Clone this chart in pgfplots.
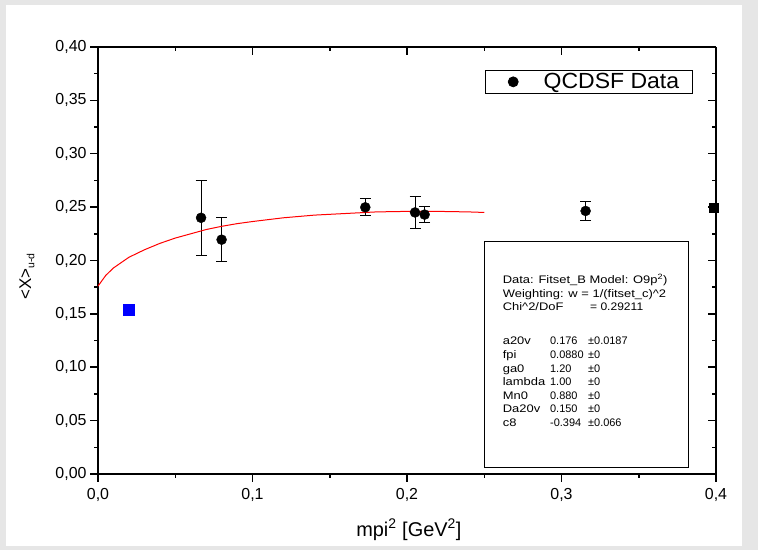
\documentclass[border=0pt]{standalone}
\usepackage{fontspec}
\setmainfont{Liberation Sans}
\usepackage{pgfplots}
\pgfplotsset{compat=1.18}
\definecolor{framegrey}{HTML}{E6E6E6}
\definecolor{qblue}{HTML}{0000FF}
\definecolor{fitred}{HTML}{FF0000}
\pgfkeys{/pgf/number format/assume math mode=true}

\pgfplotsset{
  common/.style={
    scale only axis, width=618bp, height=427bp,
    at={(98bp,76bp)}, anchor=south west,
    xmin=0, xmax=0.4, ymin=0, ymax=0.4,
    xtick={0,0.1,0.2,0.3,0.4},
    ytick={0,0.05,0.1,0.15,0.2,0.25,0.3,0.35,0.4},
    minor x tick num=1, minor y tick num=1,
    major tick length=8bp, minor tick length=4bp,
    axis line style={-, line width=1.5bp},
    every tick/.style={black, line width=1.5bp},
  }
}
\newcommand{\wide}[1]{\scalebox{1.18}[1]{#1}}
\newcommand{\fitrow}[3]{\makebox[47.3bp][l]{\wide{#1}}\makebox[38bp][l]{#2}±#3}

\begin{document}
\begin{tikzpicture}[x=1bp,y=1bp]
\fill[framegrey] (0,0) rectangle (758,550);
\fill[white] (6,4) rectangle (742,545);

% top and right frame, ticks pointing in
\begin{axis}[common, axis x line*=top, axis y line*=right, tick align=inside,
  xticklabels={}, yticklabels={}]
\end{axis}

\begin{axis}[common, axis x line*=bottom, axis y line*=left, tick align=outside,
  clip=false,
  tick label style={font=\fontsize{16}{16}\selectfont, black},
  xticklabel style={yshift=-3bp, /pgf/number format/.cd, fixed, fixed zerofill, precision=1, use comma},
  yticklabel style={/pgf/number format/.cd, fixed, fixed zerofill, precision=2, use comma},
  xlabel={mpi\textsuperscript{2} [GeV\textsuperscript{2}]},
  ylabel={<X>{\fontsize{10.5}{10.5}\selectfont\raisebox{-0.3em}{u-d}}},
  xlabel style={font=\fontsize{20}{20}\selectfont, at={(axis description cs:0.503,-0.131)}, anchor=center},
  ylabel style={font=\fontsize{17}{17}\selectfont, at={(axis description cs:-0.115,0.4625)}, anchor=center},
  legend style={at={(0.9628,0.946)}, anchor=north east, draw=black, line width=0.8bp,
    font=\fontsize{22}{22}\selectfont, inner xsep=0bp, inner ysep=1bp,
    cells={anchor=west}},
  legend image code/.code={%
    \path (0bp,0bp) (55bp,0bp);
    \draw[#1] plot coordinates {(27bp,0bp)};},
]
\addplot[only marks, mark=*, mark size=5bp, black,
  error bars/.cd, y dir=both, y explicit,
  error bar style={line width=1bp},
  error mark options={rotate=90, mark size=5.5bp, line width=1bp}]
coordinates {
 (0.0667,0.2400) +- (0,0.0350)
 (0.0800,0.2195) +- (0,0.0207)
 (0.1730,0.2498) +- (0,0.0080)
 (0.2052,0.2450) +- (0,0.0150)
 (0.2114,0.2430) +- (0,0.0075)
 (0.3156,0.2464) +- (0,0.0085)
};
\addlegendentry{\makebox[147bp][l]{\scalebox{1.05}[1]{QCDSF Data}}}

\addplot[fitred, line width=1bp, forget plot] coordinates {
 (0,0.176) (0.005,0.186) (0.01,0.193) (0.02,0.203) (0.03,0.210)
 (0.04,0.216) (0.05,0.221) (0.06,0.225) (0.07,0.229) (0.08,0.232)
 (0.09,0.2345) (0.10,0.2365) (0.12,0.240) (0.14,0.2425) (0.16,0.244)
 (0.18,0.2455) (0.20,0.246) (0.22,0.246) (0.24,0.2455) (0.25,0.245)
};

\addplot[only marks, mark=square*, mark size=4.5bp, black, forget plot]
coordinates {(0.3987,0.2495)};
\addplot[only marks, mark=square*, mark size=5.5bp, qblue, forget plot]
coordinates {(0.0200,0.1540)};

% fit result box
\draw[line width=0.8bp] (axis cs:0.2498,0.0066) rectangle (axis cs:0.3819,0.2183);
\node[anchor=north west, inner sep=0pt] at (axis cs:0.2619,0.187) {%
  \begin{minipage}[t]{180bp}
  \fontsize{11}{13.6}\selectfont
  \wide{Data: Fitset\_B Model: O9p\textsuperscript{2})}\\
  \wide{Weighting: w = 1/(fitset\_c)\^{}2}\\
  \makebox[87.3bp][l]{\wide{Chi\^{}2/DoF}}\scalebox{1.1}[1]{= 0.29211}\\[20.4bp]
  \fitrow{a20v}{0.176}{0.0187}\\
  \fitrow{fpi}{0.0880}{0}\\
  \fitrow{ga0}{1.20}{0}\\
  \fitrow{lambda}{1.00}{0}\\
  \fitrow{Mn0}{0.880}{0}\\
  \fitrow{Da20v}{0.150}{0}\\
  \fitrow{c8}{-0.394}{0.066}
  \end{minipage}};
\end{axis}
\end{tikzpicture}
\end{document}
